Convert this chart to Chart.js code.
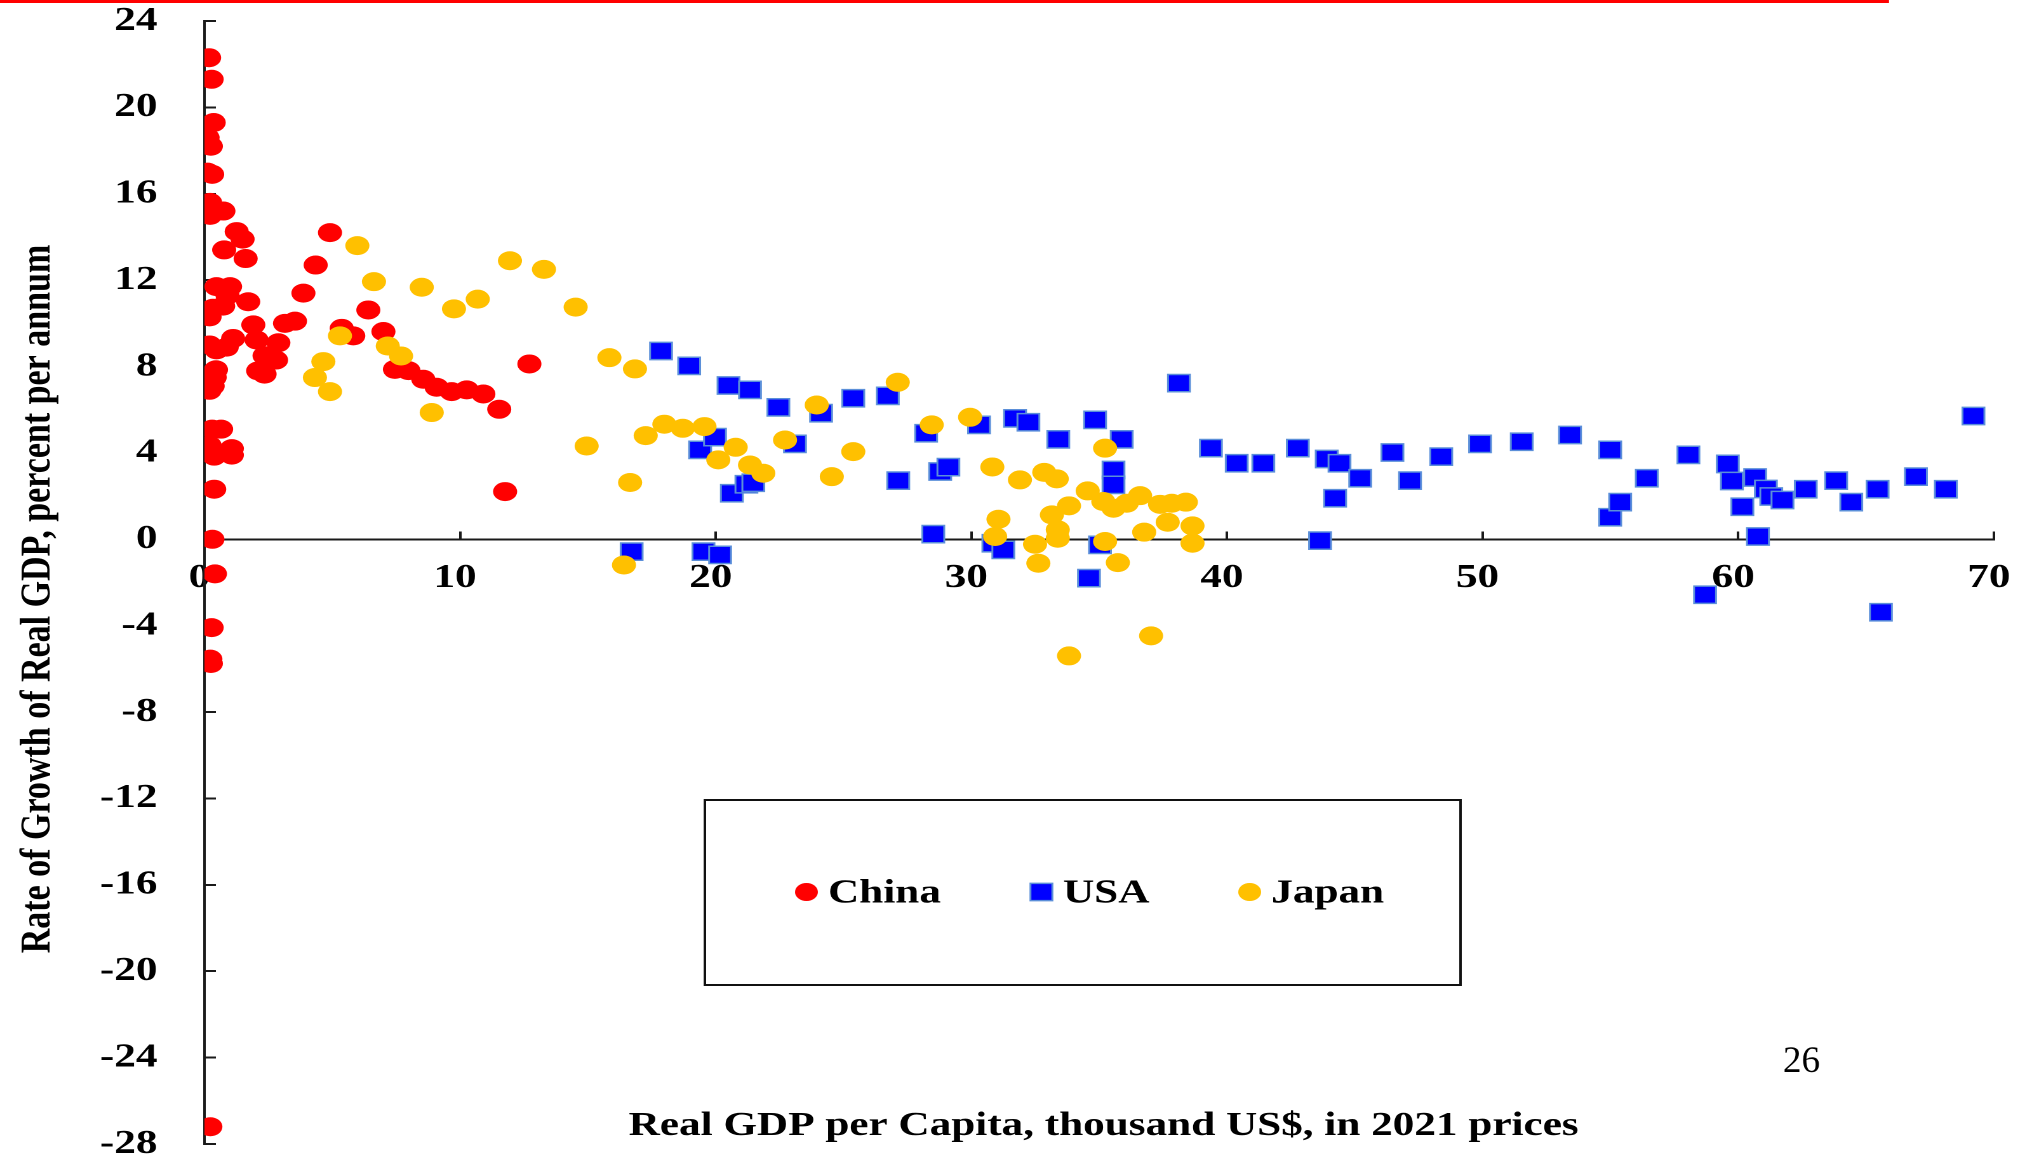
<!DOCTYPE html>
<html>
<head>
<meta charset="utf-8">
<title>Growth of Real GDP vs Real GDP per Capita</title>
<script src="https://cdn.jsdelivr.net/npm/chart.js@4.4.1/dist/chart.umd.min.js"></script>
<style>
  html, body { margin: 0; padding: 0; background: #fff; overflow: hidden; }
  /* the slide is drawn narrow and stretched sideways, like the original */
  #stage {
    position: absolute; left: 0; top: 0;
    width: 1600px; height: 1154px;
    transform: scaleX(1.27); transform-origin: 0 0;
  }
</style>
</head>
<body>
<div id="stage"><canvas id="chart"></canvas></div>
<script>
const STRETCH = 2032 / 1600;
const FONT = '"Liberation Serif", "Times New Roman", serif';

/* ================= DATA (thousand US$ 2021, % p.a.) ================= */
const chinaGdp = [0.18, 0.28, 0.36, 0.12, 0.25, 0.12, 0.3, 0.22, 0.74, 0.22, 1.26, 1.49, 0.77, 1.61,
  4.91, 4.35, 0.47, 1.0, 0.9, 0.73, 0.33, 0.2, 1.71, 3.87, 1.91, 2.04, 2.89, 2.35, 2.8, 2.1, 2.35,
  3.15, 3.54, 0.2, 0.47, 0.87, 1.12, 0.45, 0.4, 0.32, 0.2, 0.3, 0.65, 0.2, 1.07, 0.38, 1.07, 0.38,
  0.31, 0.41, 0.28, 0.23, 0.25, 0.23, 5.37, 5.82, 6.41, 7.0, 7.45, 7.98, 8.56, 9.08, 9.67, 10.26,
  10.91, 11.53, 12.71, 11.76];
const chinaGrowth = [22.3, 21.3, 19.3, 18.6, 18.2, 17.0, 16.9, 15.6, 15.2, 15.0, 14.25, 13.9, 13.4, 13.0,
  14.2, 12.7, 11.7, 11.7, 11.3, 10.8, 10.7, 10.3, 11.0, 11.4, 9.93, 9.23, 9.1, 8.5, 8.3, 7.8, 7.65,
  10.0, 10.1, 9.0, 8.77, 8.9, 9.3, 7.85, 7.5, 7.1, 6.9, 5.1, 5.1, 4.35, 4.2, 3.85, 3.9, 2.32,
  0.0, -1.6, -4.09, -5.55, -5.75, -27.2, 9.77, 9.42, 10.62, 9.62, 7.87, 7.81, 7.41, 7.04, 6.84, 6.92,
  6.73, 6.02, 8.12, 2.21];

const usaGdp = [16.71, 17.86, 18.96, 19.39, 19.52, 19.97, 20.17, 20.5, 20.63, 21.2, 21.47, 21.34, 22.45,
  23.1, 24.12, 25.38, 26.73, 27.14, 28.23, 28.51, 28.78, 29.1, 30.3, 30.86, 31.25, 31.71, 32.23, 33.4,
  34.6, 34.84, 35.03, 35.56, 35.56, 35.88, 38.12, 39.37, 40.38, 41.42, 42.77, 43.64, 43.9, 44.23, 44.4,
  45.21, 46.47, 47.16, 48.38, 49.9, 51.53, 53.42, 54.99, 54.99, 55.38, 56.42, 58.05, 58.7, 59.59, 59.75,
  60.16, 60.66, 60.77, 61.08, 61.29, 61.73, 62.64, 63.83, 64.42, 65.45, 65.58, 66.95, 68.12, 69.2];
const usaGrowth = [-0.57, 8.72, 8.03, 4.14, -0.57, 4.73, -0.72, 7.12, 2.13, 2.55, 2.62, 6.92, 6.11,
  4.42, 5.84, 6.53, 6.64, 2.72, 4.91, 0.24, 3.14, 3.34, 5.3, -0.18, -0.49, 5.6, 5.42, 4.63,
  -1.8, 5.53, -0.26, 3.21, 2.52, 4.63, 7.23, 4.22, 3.52, 3.52, 4.22, -0.06, 3.72, 1.9, 3.52,
  2.83, 4.02, 2.72, 3.83, 4.42, 4.52, 4.83, 4.14, 1.02, 1.72, 2.83, 3.91, -2.57, 3.49, 2.7,
  1.51, 2.86, 0.13, 2.33, 1.98, 1.82, 2.32, 2.72, 1.72, 2.32, -3.38, 2.9, 2.32, 5.71];

const japanGdp = [4.32, 4.65, 4.91, 5.3, 5.98, 6.63, 7.17, 7.69, 8.5, 8.89, 9.76, 10.69, 11.95, 13.28,
  14.52, 14.95, 15.84, 16.84, 16.65, 16.41, 17.26, 17.99, 18.71, 19.56, 20.1, 20.78, 21.34, 21.86,
  22.71, 23.95, 24.54, 25.38, 27.12, 28.45, 29.95, 30.82, 31.9, 31.06, 30.93, 32.49, 32.62, 32.85,
  33.34, 33.15, 33.38, 33.38, 33.82, 34.55, 35.23, 35.16, 35.56, 36.08, 36.6, 35.23, 35.73, 36.76,
  37.38, 37.84, 38.39, 37.68, 38.65, 38.65, 37.03, 33.82];
const japanGrowth = [7.49, 8.23, 6.84, 9.42, 13.6, 11.93, 8.95, 8.49, 11.67, 5.87, 10.67, 11.12, 12.9, 12.5,
  10.75, 4.32, 8.41, 7.89, 2.63, -1.19, 4.8, 5.33, 5.14, 5.22, 3.68, 4.26, 3.44, 3.06,
  4.6, 6.22, 2.9, 4.06, 7.27, 5.3, 5.65, 3.35, 2.75, 0.93, 0.13, -0.23, -1.11, 3.1,
  2.8, 1.13, 0.44, 0.05, 1.55, 2.24, 4.22, 1.75, 1.44, 1.67, 2.02, -0.1, -1.08, 0.33,
  1.62, 1.67, 1.72, 0.79, 0.62, -0.18, -4.47, -5.4];

const xTitle = "Real GDP per Capita, thousand US$, in 2021 prices";
const yTitle = "Rate of Growth of Real GDP, percent per annum";
const pageNumber = "26";

/* ================= HELPERS ================= */
const toPoints = (xs, ys) => xs.map((x, i) => ({ x, y: ys[i] }));

// tick label overflow must not eat into the plot area
const noOverflow = (scale) => {
  scale.paddingTop = 0;
  scale.paddingBottom = 0;
  scale.paddingLeft = 0;
  scale.paddingRight = 0;
};

function drawMarker(ctx, ds, x, y) {
  ctx.fillStyle = ds.backgroundColor;
  ctx.beginPath();
  if (ds.pointStyle === "rect") {
    const h = ds.pointRadius * Math.SQRT1_2;
    ctx.rect(x - h, y - h, 2 * h, 2 * h);
    ctx.fill();
    ctx.strokeStyle = ds.borderColor;
    ctx.lineWidth = ds.borderWidth;
    ctx.stroke();
  } else {
    ctx.arc(x, y, 9, 0, Math.PI * 2);
    ctx.fill();
  }
}

/* ================= PLUGIN: titles, legend, slide bits ================= */
const legendBox = { left: 555, top: 800, right: 1150, bottom: 985 };
const legendMarkX = [635, 820, 984];

const slideDecor = {
  id: "slideDecor",
  afterDraw(chart) {
    const ctx = chart.ctx;
    ctx.save();
    ctx.fillStyle = "#000";
    ctx.font = `bold 34px ${FONT}`;
    ctx.textAlign = "center";
    ctx.textBaseline = "alphabetic";
    ctx.fillText(xTitle, 869, 1135);

    ctx.save();
    ctx.translate(39, 599);
    ctx.rotate(-Math.PI / 2);
    ctx.fillText(yTitle, 0, 0);
    ctx.restore();

    // legend box
    ctx.fillStyle = "#fff";
    ctx.fillRect(legendBox.left, legendBox.top, legendBox.right - legendBox.left, legendBox.bottom - legendBox.top);
    ctx.strokeStyle = "#111";
    ctx.lineWidth = 2;
    ctx.strokeRect(legendBox.left, legendBox.top, legendBox.right - legendBox.left, legendBox.bottom - legendBox.top);

    chart.data.datasets.forEach((ds, i) => {
      drawMarker(ctx, ds, legendMarkX[i], 892);
      ctx.fillStyle = "#000";
      ctx.textAlign = "left";
      ctx.fillText(ds.label, legendMarkX[i] + 17, 902.5);
    });

    // red rule and page number are not stretched
    ctx.save();
    ctx.scale(1 / STRETCH, 1);
    ctx.fillStyle = "#ff0000";
    ctx.fillRect(0, 0, 1889, 3);
    ctx.fillStyle = "#000";
    ctx.font = `37px ${FONT}`;
    ctx.textAlign = "left";
    ctx.fillText(pageNumber, 1783, 1072);
    ctx.restore();

    ctx.restore();
  },
};

/* ================= CHART ================= */
const tickFont = { family: FONT, size: 34, weight: "bold" };

new Chart(document.getElementById("chart"), {
  type: "scatter",
  data: {
    datasets: [
      {
        label: "China",
        data: toPoints(chinaGdp, chinaGrowth),
        pointStyle: "circle",
        pointRadius: 9.5,
        backgroundColor: "#ff0000",
        borderColor: "#ff0000",
        borderWidth: 0,
        order: 2,
      },
      {
        label: "USA",
        data: toPoints(usaGdp, usaGrowth),
        pointStyle: "rect",
        pointRadius: 12.2,
        backgroundColor: "#0000ff",
        borderColor: "#5b8fd9",
        borderWidth: 1.5,
        order: 1,
      },
      {
        label: "Japan",
        data: toPoints(japanGdp, japanGrowth),
        pointStyle: "circle",
        pointRadius: 9.5,
        backgroundColor: "#ffc000",
        borderColor: "#ffc000",
        borderWidth: 0,
        order: 0,
      },
    ],
  },
  options: {
    responsive: true,
    maintainAspectRatio: false,
    devicePixelRatio: 2,
    animation: false,
    events: [],
    layout: { autoPadding: false, padding: { left: 0, top: 21, right: 30, bottom: 10 } },
    plugins: { legend: { display: false }, tooltip: { enabled: false } },
    scales: {
      x: {
        type: "linear",
        min: 0,
        max: 70,
        position: { y: 0 },
        afterFit: noOverflow,
        ticks: { stepSize: 10, color: "#000", font: tickFont, padding: 27.5, labelOffset: -4, maxRotation: 0, autoSkip: false },
        grid: { drawOnChartArea: false, tickLength: -9, tickWidth: 2, tickColor: "#1a1a1a" },
        border: { display: true, color: "#1a1a1a", width: 2 },
      },
      y: {
        type: "linear",
        min: -28,
        max: 24,
        position: "left",
        afterFit: (scale) => {
          noOverflow(scale);
          scale.width = 161;
        },
        ticks: { stepSize: 4, color: "#000", font: tickFont, padding: 46, autoSkip: false },
        grid: { drawOnChartArea: false, tickLength: -9, tickWidth: 2, tickColor: "#1a1a1a" },
        border: { display: true, color: "#1a1a1a", width: 2 },
      },
    },
  },
  plugins: [slideDecor],
});
</script>
</body>
</html>
